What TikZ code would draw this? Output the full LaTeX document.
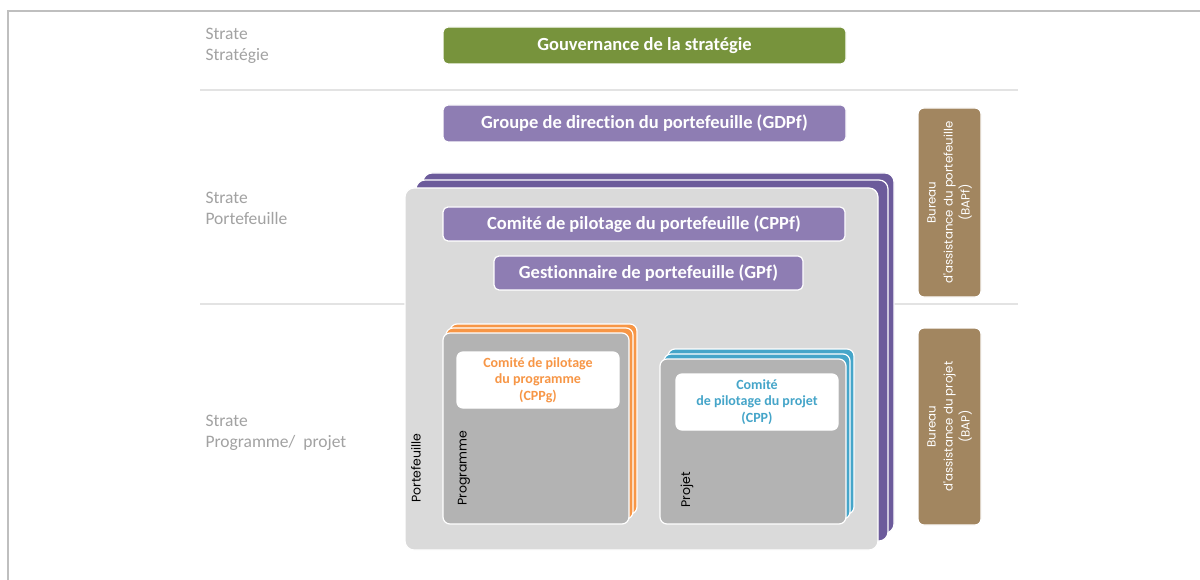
\documentclass[tikz,border=0pt]{standalone}
\usepackage{fontspec}
\setmainfont{Carlito}[Ligatures={TeX,NoCommon}]
\newfontfamily\geofont{Poppins}
\usepackage{tikz}
\usetikzlibrary{positioning}
\definecolor{frameline}{HTML}{BFBFBF}
\definecolor{sepline}{HTML}{E3E3E3}
\definecolor{stratetxt}{HTML}{A2A2A2}
\definecolor{govgreen}{HTML}{77933C}
\definecolor{pfpurple}{HTML}{8E7DB3}
\definecolor{pfdark}{HTML}{6C5B9B}
\definecolor{pfgrey}{HTML}{DADADA}
\definecolor{subgrey}{HTML}{B3B3B3}
\definecolor{progorange}{HTML}{F79646}
\definecolor{projblue}{HTML}{45A5C9}
\definecolor{bureaubrown}{HTML}{A28660}

\begin{document}
\begin{tikzpicture}[
    x=1pt, y=-1pt,
    sized/.style 2 args={minimum width=#1pt, minimum height=#2pt},
    layer/.style={draw=white, line width=1.2pt, rounded corners=7pt, inner sep=0pt},
    govbox/.style={layer, fill=#1, text=white, rounded corners=5pt, font=\fontsize{18.5}{21}\selectfont\bfseries},
    committee/.style={layer, fill=white, text=#1, rounded corners=6pt, align=center, font=\fontsize{14}{16.7}\selectfont\bfseries},
    bureau/.style={layer, fill=bureaubrown, text=white, rounded corners=6pt, align=center, font=\geofont\fontsize{11.8}{17}\selectfont},
    strate/.style={anchor=west, align=left, text=stratetxt, font=\fontsize{17.5}{21}\selectfont},
    sidelabel/.style={rotate=90, inner sep=0pt, font=\geofont\fontsize{12.5}{14}\selectfont}
]
    \useasboundingbox[fill=white] (0,0) rectangle (1200,580);
    \draw[frameline, line width=2pt] (8,580) -- (8,11) -- (1200,11);
    \draw[sepline, line width=1.5pt] (200,90) -- (1018,90);
    \draw[sepline, line width=1.5pt] (200,304) -- (1018,304);

    % Strates
    \node[strate] (sstrat) at (202,45.5) {Strate\\Stratégie};
    \node[strate] (sport) at (202,208.5) {Strate\\Portefeuille};
    \node[strate] (sprog) at (202,432.5) {Strate\\Programme/~ projet};

    % Strategie
    \node[govbox=govgreen, sized={403}{37}] (gov) at (644.5,45.5) {Gouvernance de la stratégie};
    \node[govbox=pfpurple, sized={403}{37}] (gdpf) at (644.5,123.5) {Groupe de direction du portefeuille (GDPf)};

    % Portefeuille stack
    \node[layer, fill=pfdark, sized={471}{360}, rounded corners=9pt] (pfback) at (658.5,353) {};
    \node[layer, fill=pfdark, sized={472}{361}, rounded corners=9pt] (pfmid) at (652,360.5) {};
    \node[layer, fill=pfgrey, sized={473}{362}, rounded corners=9pt] (pf) at (641.5,369) {};
    \node[govbox=pfpurple, sized={402}{34}] (cppf) at (644,224) {Comité de pilotage du portefeuille (CPPf)};
    \node[govbox=pfpurple, sized={309}{34}] (gpf) at (648.5,273) {Gestionnaire de portefeuille (GPf)};
    \node[sidelabel] (pflabel) at (416,468) {Portefeuille};

    % Programme stack
    \node[layer, fill=progorange, sized={187}{190}] (progback) at (543.5,419) {};
    \node[layer, fill=progorange, sized={187}{191}] (progmid) at (539.5,423.5) {};
    \node[layer, fill=subgrey, sized={186}{191}] (prog) at (536,428.5) {};
    \node[committee=progorange, sized={162}{56}] (cppg) at (538,380) {Comité de pilotage\\du programme\\(CPPg)};
    \node[sidelabel] (proglabel) at (464,468) {Programme};

    % Projet stack
    \node[layer, fill=projblue, sized={186}{165}] (projback) at (761,431.5) {};
    \node[layer, fill=projblue, sized={186}{165}] (projmid) at (757,436.5) {};
    \node[layer, fill=subgrey, sized={186}{165}] (proj) at (753,441.5) {};
    \node[committee=projblue, sized={162}{56}] (cpp) at (757,402) {Comité\\de pilotage du projet\\(CPP)};
    \node[sidelabel] (projlabel) at (687,490) {Projet};

    % Bureaux
    \node[bureau, sized={189}{63}, rotate=90] (bapf) at (949.5,202.5) {Bureau\\d'assistance du portefeuille\\(BAPf)};
    \node[bureau, sized={197}{63}, rotate=90] (bap) at (949.5,426.5) {Bureau\\d'assistance du projet\\(BAP)};
\end{tikzpicture}
\end{document}
